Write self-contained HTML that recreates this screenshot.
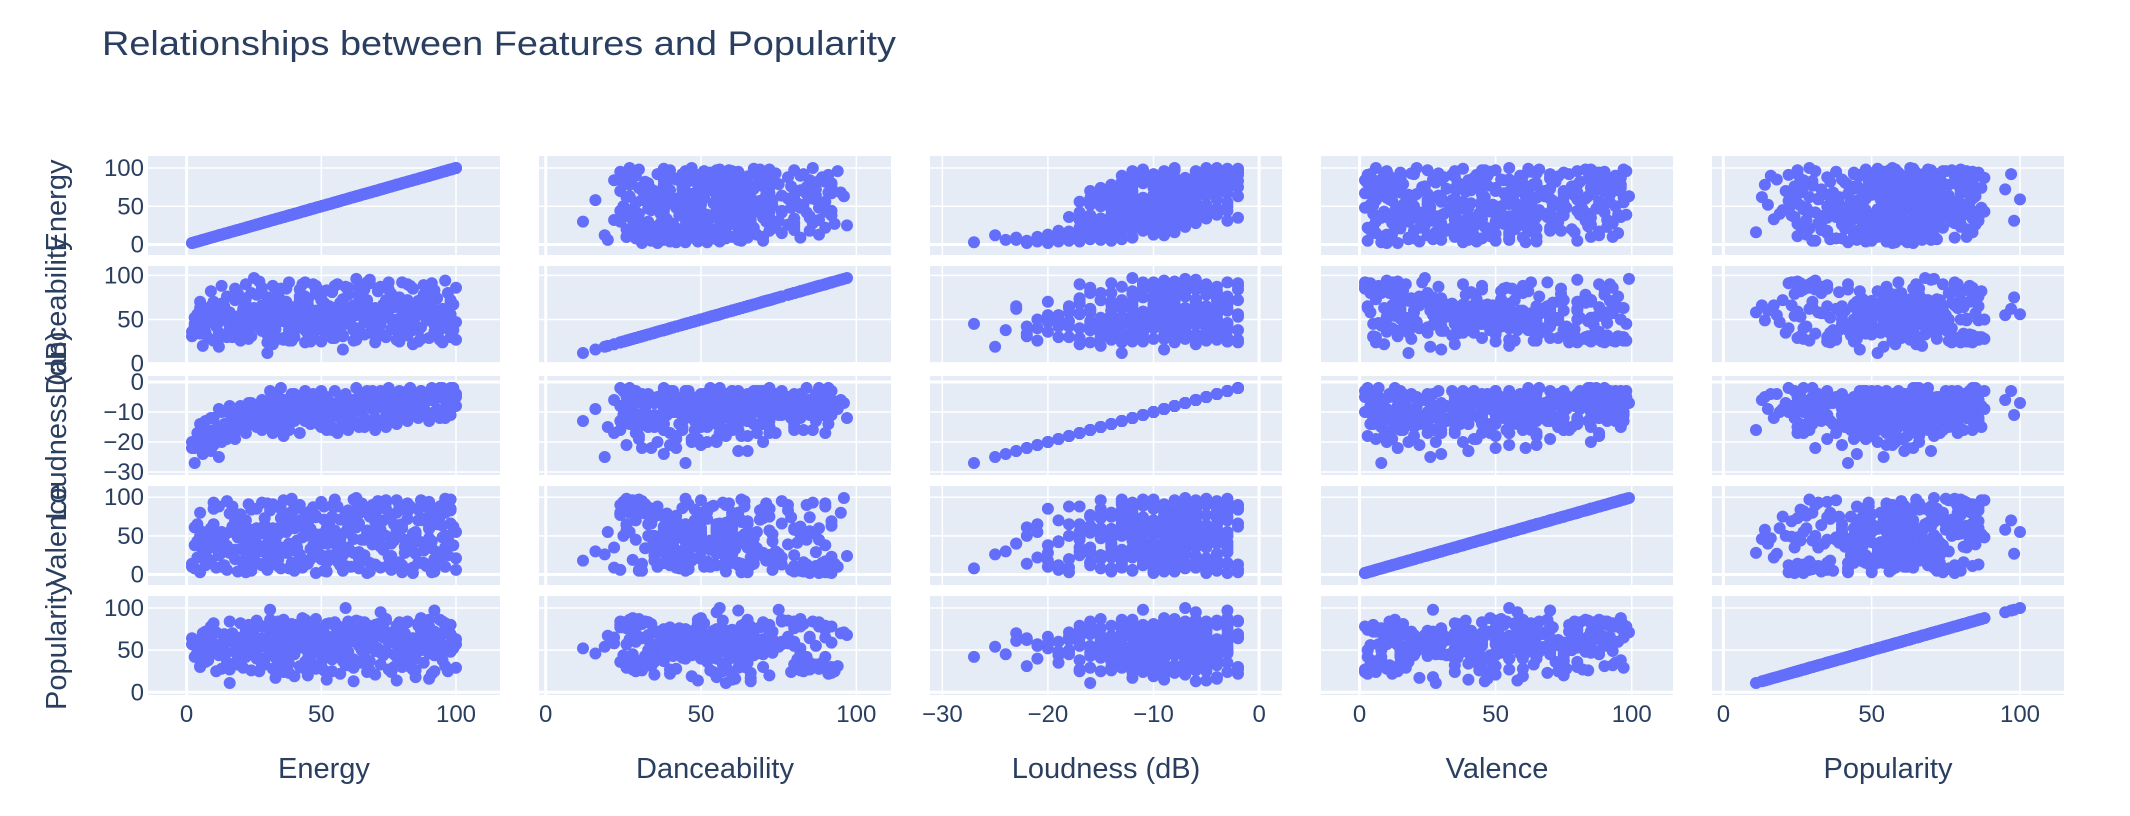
<!DOCTYPE html>
<html><head><meta charset="utf-8"><style>
html,body{margin:0;padding:0;background:#fff;}
svg{display:block;font-family:"Liberation Sans",sans-serif;}
</style></head><body>
<svg id="chart" width="2130" height="816" viewBox="0 0 2130 816" xmlns="http://www.w3.org/2000/svg">
<rect x="0" y="0" width="2130" height="816" fill="#fff"/>
<text x="102" y="55" font-size="34" fill="#2a3f5f" textLength="794" lengthAdjust="spacingAndGlyphs">Relationships between Features and Popularity</text>
<g id="panels"></g>
</svg>
<script>
const dimensions = ["Energy","Danceability","Loudness (dB)","Valence","Popularity"];
const records = [
[2,31,-22,14,64],[3,45,-27,8,42],[4,40,-21,22,55],[5,63,-18,3,50],[6,38,-24,30,45],[7,55,-19,12,60],[8,29,-17,45,38],[9,47,-20,18,66],[10,60,-16,35,52],[11,42,-18,9,71],
[12,35,-15,25,48],[13,68,-17,55,58],[14,50,-14,40,63],[15,30,-19,6,35],[16,58,-16,28,11],[17,44,-13,62,70],[18,72,-15,20,57],[19,38,-14,48,44],[20,55,-12,33,65],[21,62,-16,15,29],
[22,48,-13,70,74],[23,35,-11,42,53],[24,80,-14,58,60],[25,97,-12,24,68],[26,52,-15,85,47],[27,41,-10,37,59],[28,66,-13,12,78],[29,57,-12,64,33],[30,33,-14,50,62],[31,75,-11,27,98],
[32,46,-9,91,55],[33,61,-12,44,41],[34,28,-10,19,72],[35,70,-13,73,58],[36,54,-11,35,24],[37,85,-9,56,66],[38,43,-14,8,50],[39,64,-10,95,81],[40,37,-12,31,45],[41,58,-8,67,69],
[42,76,-11,22,57],[43,50,-9,48,88],[44,24,-13,80,36],[45,67,-10,14,63],[46,55,-8,59,52],[47,90,-11,38,74],[48,42,-9,76,28],[49,60,-7,26,61],[50,73,-10,52,47],[51,36,-12,88,70],
[52,58,-8,4,56],[53,49,-9,63,82],[54,81,-7,41,39],[55,63,-10,97,65],[56,45,-8,17,54],[57,69,-6,71,77],[58,32,-9,34,43],[59,56,-7,55,100],[60,78,-8,83,58],[61,51,-10,10,62],
[62,66,-6,46,13],[63,40,-7,68,71],[64,87,-9,29,55],[65,59,-5,92,66],[66,47,-8,21,49],[67,72,-6,57,80],[68,35,-7,75,37],[69,61,-9,39,60],[70,54,-5,13,73],[71,82,-7,62,52],
[72,44,-6,86,67],[73,67,-8,32,44],[74,57,-4,50,85],[75,92,-6,23,59],[76,39,-7,78,63],[77,64,-5,44,30],[78,50,-8,96,76],[79,75,-4,16,54],[80,33,-6,65,68],[81,60,-7,36,41],
[82,70,-3,81,83],[83,46,-5,7,57],[84,85,-6,53,64],[85,55,-4,27,18],[86,63,-7,70,79],[87,41,-3,42,50],[88,78,-5,90,66],[89,58,-4,11,61],[90,49,-6,60,86],[91,68,-3,34,46],
[92,36,-5,77,72],[93,74,-4,19,58],[94,53,-2,87,65],[95,62,-5,48,38],[96,45,-3,98,75],[97,80,-4,25,56],[98,56,-2,66,69],[99,67,-3,38,52],[100,27,-4,55,63],
[3,52,-20,38,58],[5,34,-22,50,31],[8,58,-18,20,49],[10,26,-21,65,57],[12,47,-19,42,44],[14,62,-16,12,69],[16,40,-17,55,27],[18,53,-13,32,62],[20,33,-15,78,50],[22,67,-14,22,58],
[24,45,-12,5,72],[26,59,-11,60,40],[28,37,-14,30,64],[30,71,-12,92,55],[32,52,-13,17,47],[34,64,-9,52,79],[36,29,-11,70,60],[38,57,-10,40,34],[40,48,-13,84,66],[42,69,-9,26,53],
[44,38,-11,58,75],[46,61,-12,33,45],[48,79,-8,74,59],[50,42,-10,20,68],[52,66,-9,49,23],[54,54,-11,89,61],[56,35,-7,38,56],[58,73,-9,6,72],[60,47,-8,62,48],[62,59,-10,28,65],
[64,39,-7,79,58],[66,84,-6,45,42],[68,51,-8,15,70],[70,63,-9,68,54],[72,34,-5,36,81],[74,57,-7,93,49],[76,70,-6,24,63],[78,44,-8,56,57],[80,65,-5,3,74],[82,52,-7,72,36],
[84,38,-4,40,62],[86,71,-6,84,55],[88,56,-8,31,67],[90,82,-4,59,46],[92,44,-6,9,71],[94,60,-3,75,59],[96,51,-6,35,82],[98,69,-3,83,48],[100,47,-5,21,57],[99,38,-2,62,64],[97,59,-5,46,25],
[6,20,-15,55,67],[9,65,-23,40,61],[13,55,-20,28,52],[17,30,-18,88,66],[21,44,-15,47,41],[25,63,-13,14,56],[29,49,-15,73,62],[33,39,-11,36,69],[35,60,-14,59,51],[37,70,-12,28,45],
[39,52,-9,81,60],[41,45,-11,44,57],[43,63,-10,9,64],[45,34,-12,66,48],[47,56,-9,51,71],[49,48,-11,37,55],[51,69,-8,71,62],[53,41,-10,25,43],[55,58,-9,57,67],[57,50,-11,45,58],
[59,62,-7,80,53],[61,43,-9,30,76],[63,55,-8,61,60],[65,71,-10,18,50],[67,48,-7,53,64],[69,58,-6,90,57],[71,40,-8,41,69],[73,61,-7,70,45],[75,53,-9,10,61],[77,67,-6,47,72],
[79,45,-5,64,55],[81,56,-8,28,66],[83,64,-6,88,49],[85,42,-5,52,60],[87,60,-7,15,73],[89,51,-4,73,56],[91,73,-6,43,63],[93,46,-3,29,68],[95,57,-4,63,54],[97,40,-3,50,77],
[31,58,-10,41,73],[27,50,-12,53,80],[23,56,-14,46,67],[19,48,-16,63,54],[15,52,-14,37,47],[11,57,-17,48,25],[7,44,-16,27,72],[4,49,-19,43,48],[2,36,-20,10,57],[3,42,-22,61,62],
[52,60,-9,40,15],[40,47,-10,60,19],[70,35,-7,50,21],[33,66,-12,22,17],[85,53,-6,44,26],[60,58,-8,35,32],[45,72,-9,75,20],[78,49,-5,58,14],[57,40,-10,12,22],[90,61,-4,47,16],
[64,76,-7,66,84],[48,82,-8,52,87],[36,65,-13,69,86],[72,55,-6,58,95],[92,62,-3,70,97],[55,88,-8,45,83],[44,92,-10,63,78],[68,95,-6,80,70],[82,90,-5,92,65],[38,26,-12,64,76],
[30,12,-13,18,52],[58,16,-9,30,46],[84,22,-6,9,58],[46,25,-11,50,44],[12,19,-25,26,54],[63,96,-7,99,71],
[5,70,-14,80,30],[9,82,-12,60,78],[12,28,-9,88,45],[15,76,-10,95,60],[18,85,-11,74,35],[20,26,-8,57,82],[22,90,-10,3,42],[24,31,-7,84,26],[26,78,-9,39,85],[28,86,-6,93,32],
[30,24,-8,6,77],[32,88,-7,60,28],[34,80,-5,11,84],[36,27,-6,96,38],[38,92,-8,69,23],[40,30,-4,5,80],[42,84,-7,90,31],[44,76,-3,13,86],[46,28,-6,82,27],[48,88,-5,2,78],
[50,25,-3,94,35],[52,83,-16,16,81],[54,29,-15,73,25],[56,90,-17,88,79],[58,31,-14,5,37],[60,86,-16,54,84],[62,26,-13,97,29],[64,80,-15,8,76],[66,33,-12,86,83],[68,91,-14,4,26],
[70,24,-16,77,80],[72,87,-13,9,33],[74,30,-15,96,87],[76,79,-12,6,24],[78,27,-14,80,79],[80,92,-11,12,30],[82,32,-13,91,84],[84,85,-10,2,27],[86,25,-12,85,82],[88,89,-11,15,35],
[90,29,-13,94,78],[92,83,-10,4,25],[94,27,-12,88,86],[96,94,-9,10,31],[98,30,-11,97,80],[100,86,-8,6,29],[95,24,-2,90,84],[91,91,-2,3,22],[87,28,-3,96,88],[83,88,-2,7,30],
[79,25,-3,89,83],[75,84,-2,13,27],[71,31,-4,95,81],[67,92,-3,2,24],[63,27,-2,84,85],[59,87,-4,11,32],[55,29,-3,92,79],[51,82,-5,5,26],[47,33,-4,87,83],[43,90,-6,17,29],
[39,26,-5,98,78],[35,85,-7,8,35],[31,30,-6,83,86],[27,93,-8,14,25],[23,28,-7,91,80],[19,80,-9,4,33],[16,32,-8,79,84],[13,88,-10,10,28],[10,26,-12,93,82],[7,35,-13,18,36],
[33,45,-8,45,60],[37,55,-6,55,50],[41,65,-5,35,70],[45,45,-4,65,40],[49,55,-14,45,55],[53,65,-13,55,65],[57,45,-12,35,45],[61,55,-11,65,75],[65,65,-4,45,35],[69,45,-3,55,55],
[73,55,-14,35,65],[77,65,-13,65,45],[81,45,-12,45,70],[85,55,-11,55,40],[89,65,-10,35,60],[93,45,-9,65,50],[97,55,-8,45,70],[29,65,-9,55,40],[25,45,-10,35,60],[21,55,-11,65,50],
[34,72,-15,25,67],[38,38,-16,75,43],[42,72,-17,25,73],[46,38,-14,75,37],[50,72,-15,25,63],[54,38,-16,75,47],[58,72,-13,25,69],[62,38,-14,75,39],[66,72,-15,25,59],[70,38,-12,75,49],
[74,72,-10,85,72],[78,38,-9,15,42],[82,72,-8,85,62],[86,38,-7,15,52],[90,72,-6,85,68],[94,38,-5,15,44],[98,72,-4,85,58],[31,38,-3,15,48],[35,72,-2,85,66],[39,38,-4,15,54],
[44,50,-7,50,57],[48,60,-6,40,47],[52,50,-5,60,67],[56,60,-7,30,57],[60,50,-6,70,47],[64,60,-5,20,67],[68,50,-4,80,57],[72,60,-3,50,47],[76,50,-6,40,62],[80,60,-5,60,52],
[84,50,-9,30,64],[88,60,-10,70,54],[92,50,-11,20,44],[96,60,-12,80,74],[26,50,-13,50,64],[30,60,-14,40,54],[34,50,-15,60,44],[38,60,-16,30,74],[42,50,-10,70,64],[46,60,-9,20,54],
[14,65,-18,50,62],[18,42,-19,70,48],[22,74,-17,30,58],[8,50,-21,55,40],[6,62,-23,40,70],[28,80,-16,60,55],[32,22,-17,35,65],[36,48,-18,65,45],[10,70,-20,85,58],[4,56,-17,65,55]
];
const energy = records.map(r=>r[0]);
const danceability = records.map(r=>r[1]);
const loudness = records.map(r=>r[2]);
const valence = records.map(r=>r[3]);
const popularity = records.map(r=>r[4]);
const series = [energy, danceability, loudness, valence, popularity];

const NS="http://www.w3.org/2000/svg";
const root=document.getElementById('panels');
const colX0=148, colStep=391, panelW=352;
const rowY0=156, rowStep=110, panelH=99;
const padX=44, padY=12;
const TXT="#2a3f5f";
function mk(tag,attrs,parent){const e=document.createElementNS(NS,tag);for(const k in attrs)e.setAttribute(k,attrs[k]);(parent||root).appendChild(e);return e;}
function extent(a){return [Math.min(...a),Math.max(...a)];}
function axis(vals,p0,len,pad,flip){
  const [mn,mx]=extent(vals);const span=(mx-mn)||1;
  const k=(len-2*pad)/span;
  const lo=mn-pad/k, hi=mx+pad/k;
  const f=v=>flip? p0+len-(v-lo)*k : p0+(v-lo)*k;
  const cands=[1,2,5,10,20,50,100,200];
  let dt=cands.find(d=>(hi-lo)/d<=4)||200;
  const ticks=[];for(let t=Math.ceil(lo/dt)*dt;t<=hi;t+=dt)ticks.push(t);
  return {f,ticks};
}
function fmt(t){return t<0?'\u2212'+Math.abs(t):String(t);}
for(let r=0;r<5;r++){
  const py=rowY0+r*rowStep;
  for(let c=0;c<5;c++){
    const px=colX0+c*colStep;
    const g=mk('g',{});
    
    
    const bg=mk('rect',{x:px,y:py,width:panelW,height:panelH,fill:'#E5ECF6'},g);
    
    
    const ax=axis(series[c],px,panelW,padX,false);
    const ay=axis(series[r],py,panelH,padY,true);
    ax.ticks.forEach(t=>{const x=ax.f(t);const l=mk('line',{x1:x,x2:x,y1:py,y2:py+panelH,stroke:'#fff','stroke-width':t===0?3:1.5},g);
      
      });
    ay.ticks.forEach(t=>{const y=ay.f(t);const l=mk('line',{x1:px,x2:px+panelW,y1:y,y2:y,stroke:'#fff','stroke-width':t===0?3:1.5},g);
      
      });
    const mg=mk('g',{fill:'#636EFA'},g);
    
    
    for(let i=0;i<records.length;i++){
      const pt=mk('circle',{cx:ax.f(series[c][i]).toFixed(1),cy:ay.f(series[r][i]).toFixed(1),r:6},mg);
      
      
    }
    if(c===0){
      ay.ticks.forEach(t=>{const tx=mk('text',{x:px-4,y:ay.f(t)+8,'font-size':24,fill:TXT,'text-anchor':'end'});tx.textContent=fmt(t);
        
        });
      const yt=mk('text',{x:0,y:0,'font-size':29,fill:TXT,'text-anchor':'middle',transform:`translate(66,${py+panelH/2}) rotate(-90)`});
      yt.textContent=dimensions[r];
      
      
    }
    if(r===4){
      ax.ticks.forEach(t=>{const tx=mk('text',{x:ax.f(t),y:722,'font-size':24,fill:TXT,'text-anchor':'middle'});tx.textContent=fmt(t);
        
        });
      const xt=mk('text',{x:px+panelW/2,y:778,'font-size':29,fill:TXT,'text-anchor':'middle'});
      xt.textContent=dimensions[c];
      
      
    }
  }
}
</script>
</body></html>
